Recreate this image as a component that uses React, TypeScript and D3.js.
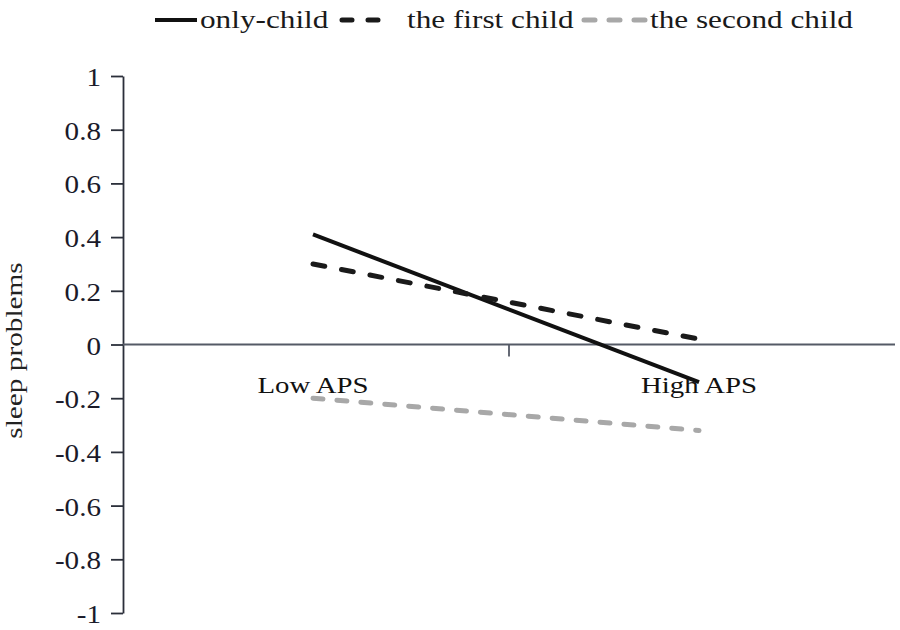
import { useRef, useEffect } from "react";
import * as d3 from "d3";

const categories = ["Low APS", "High APS"];
const onlyChild = [0.41, -0.14];
const firstChild = [0.3, 0.02];
const secondChild = [-0.2, -0.32];
const yTicks = [1, 0.8, 0.6, 0.4, 0.2, 0, -0.2, -0.4, -0.6, -0.8, -1];

const series = [
  { name: "only-child", values: onlyChild, color: "#111", dash: null, width: 4, legendDash: null },
  { name: "the first child", values: firstChild, color: "#1a1a1a", dash: "12,17", width: 5, legendDash: "10,16" },
  { name: "the second child", values: secondChild, color: "#a8a8a8", dash: "10,14", width: 5, legendDash: "11,14" },
];

const font = "'Liberation Serif', 'Times New Roman', serif";

export default function App() {
  const svgRef = useRef<SVGSVGElement>(null);

  useEffect(() => {
    const width = 900;
    const height = 630;
    const svg = d3.select(svgRef.current);
    svg.selectAll("*").remove();

    const left = 123;
    const right = 895;

    const x = d3.scaleBand().domain(categories).range([left, right]);
    const y = d3.scaleLinear().domain([-1, 1]).range([613, 76]);

    svg.append("rect").attr("width", width).attr("height", height).attr("fill", "#fff");

    // stretched text helper (the source picture is wider than tall)
    const label = (
      tx: number,
      ty: number,
      txt: string,
      size: number,
      anchor: string,
      sx: number,
      rot = 0,
      fill = "#1a1a1a"
    ) =>
      svg
        .append("text")
        .attr("transform", `translate(${tx},${ty}) rotate(${rot}) scale(${sx},1)`)
        .attr("text-anchor", anchor)
        .attr("font-family", font)
        .attr("font-size", `${size}px`)
        .attr("fill", fill)
        .text(txt);

    // Y axis
    const yAxis = svg
      .append("g")
      .attr("transform", `translate(${left},0)`)
      .call(d3.axisLeft(y).tickValues(yTicks).tickSize(12).tickSizeOuter(0).tickFormat(() => ""));
    yAxis.select(".domain").attr("stroke", "#2b2f3a").attr("stroke-width", 1.8);
    yAxis.selectAll(".tick line").attr("stroke", "#2b2f3a").attr("stroke-width", 1.8);
    yTicks.forEach((t) => {
      label(101, y(t) + 10, String(t), 26, "end", 1.12, 0, "#1a1a2a");
    });

    // X axis at zero
    const y0 = y(0);
    svg
      .append("line")
      .attr("x1", left)
      .attr("x2", right)
      .attr("y1", y0)
      .attr("y2", y0)
      .attr("stroke", "#555a66")
      .attr("stroke-width", 1.8);
    // boundary tick between categories
    const mid = x(categories[1]) as number;
    svg
      .append("line")
      .attr("x1", mid)
      .attr("x2", mid)
      .attr("y1", y0)
      .attr("y2", y0 + 12)
      .attr("stroke", "#555a66")
      .attr("stroke-width", 1.8);

    const cx = (c: string) => (x(c) as number) + x.bandwidth() / 2 - 3;

    // Series lines
    series.forEach((s) => {
      const line = d3
        .line<number>()
        .x((_, i) => cx(categories[i]))
        .y((d) => y(d));
      const p = svg
        .append("path")
        .datum(s.values)
        .attr("d", line)
        .attr("fill", "none")
        .attr("stroke", s.color)
        .attr("stroke-width", s.width);
      if (s.dash) p.attr("stroke-dasharray", s.dash).attr("stroke-linecap", "round");
    });

    // Category labels
    categories.forEach((c) => {
      label(cx(c), y0 + 48, c, 24, "middle", 1.2, 0, "#111");
    });

    // Y label
    label(22, y0 + 6, "sleep problems", 24, "middle", 1.22, -90, "#222");

    // Legend
    const legendItems = [
      { x1: 155, x2: 197, tx: 200 },
      { x1: 342, x2: 382, tx: 407 },
      { x1: 584, x2: 645, tx: 650 },
    ];
    series.forEach((s, i) => {
      const li = legendItems[i];
      const l = svg
        .append("line")
        .attr("x1", li.x1)
        .attr("x2", li.x2)
        .attr("y1", 20)
        .attr("y2", 20)
        .attr("stroke", s.color)
        .attr("stroke-width", s.width);
      if (s.legendDash) l.attr("stroke-dasharray", s.legendDash).attr("stroke-linecap", "round");
      label(li.tx, 28, s.name, 25, "start", 1.25);
    });
  }, []);

  return <svg ref={svgRef} width={900} height={630} style={{ display: "block", position: "absolute", left: 0, top: 0 }} />;
}
